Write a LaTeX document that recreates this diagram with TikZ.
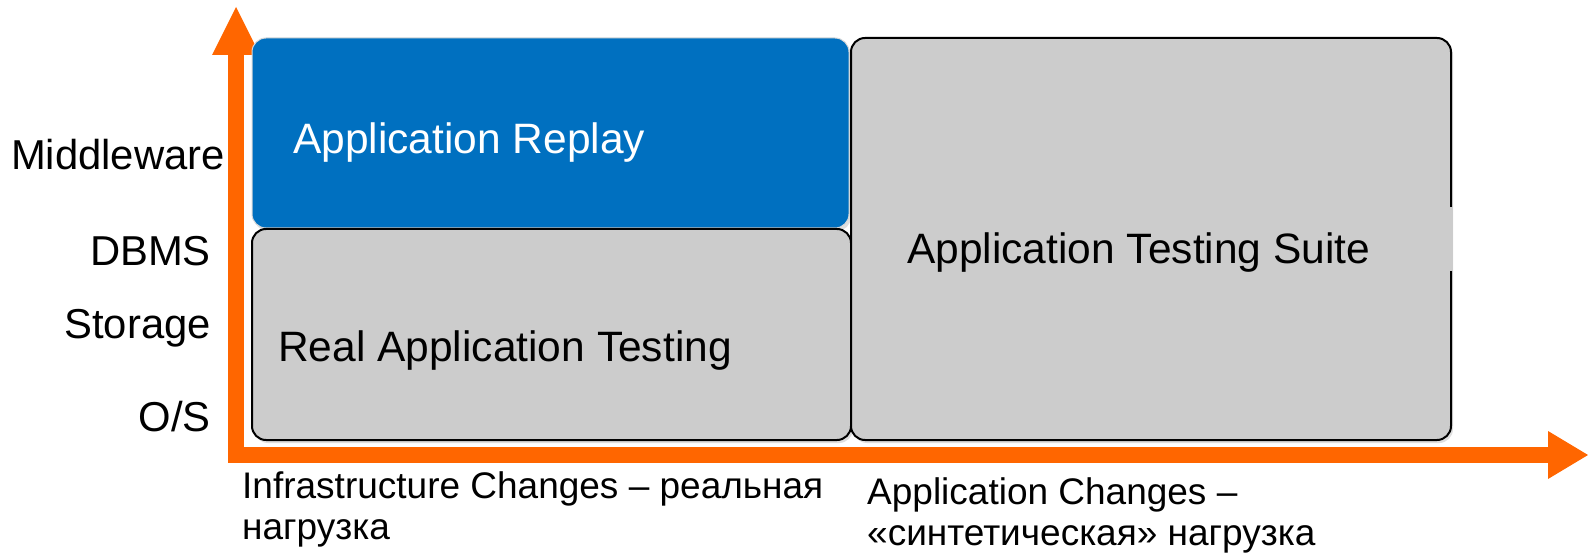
\documentclass[tikz,border=0pt]{standalone}
\usepackage{fontspec}
\setmainfont{Liberation Sans}
\usetikzlibrary{shadows}
\definecolor{orng}{RGB}{255,102,0}
\definecolor{bluebox}{RGB}{0,112,192}
\definecolor{greybox}{RGB}{204,204,204}
\begin{document}
\begin{tikzpicture}[x=1pt,y=-1pt,
  boxbase/.style={anchor=north west, inner sep=0pt, outer sep=0pt, rounded corners=14pt,
     drop shadow={opacity=0.25, shadow xshift=2pt, shadow yshift=-3pt}},
  greyboxst/.style={boxbase, fill=greybox, draw=black, line width=2pt},
  blueboxst/.style={boxbase, fill=bluebox, draw=black!15, line width=1pt},
  axislabel/.style={font=\fontsize{41.8}{48}\selectfont, inner sep=0pt, anchor=base east},
  boxlabel/.style={font=\fontsize{42.5}{48}\selectfont, inner sep=0pt, anchor=base west},
  bottomlabel/.style={font=\fontsize{37}{42}\selectfont, inner sep=0pt, anchor=base west},
  arrowfill/.style={fill=orng, draw=none}]
\useasboundingbox (0,0) rectangle (1588,553);
% axes
\fill[arrowfill] (228,55) rectangle (244,463);
\fill[arrowfill] (212,55) -- (236,7) -- (260,55) -- cycle;
\fill[arrowfill] (228,447) rectangle (1548,463);
\fill[arrowfill] (1548,431) -- (1588,455) -- (1548,479) -- cycle;
% boxes
\node[blueboxst, minimum width=597pt, minimum height=190pt] (replay) at (252,38) {};
\node[greyboxst, minimum width=599pt, minimum height=211pt] (rat) at (252,229) {};
\node[greyboxst, minimum width=600pt, minimum height=402pt] (ats) at (851,38) {};
\node[anchor=north west, inner sep=0pt, fill=greybox, minimum width=600pt, minimum height=64pt] (atsband) at (853,207) {};
% box labels
\node[boxlabel, text=white] (replaylbl) at (293,154) {Application Replay};
\node[boxlabel] (ratlbl) at (278,361) {Real Application Testing};
\node[boxlabel] (atslbl) at (907,264) {Application Testing Suite};
% axis labels
\node[axislabel] (mw) at (225,170) {Middleware};
\node[axislabel] (dbms) at (211,266) {DBMS};
\node[axislabel] (stor) at (211,339) {Storage};
\node[axislabel] (os) at (211,431) {O/S};
% bottom labels
\node[bottomlabel] (infra1) at (242,498) {Infrastructure Changes – реальная};
\node[bottomlabel] (infra2) at (242,539) {нагрузка};
\node[bottomlabel] (app1) at (867,504) {Application Changes –};
\node[bottomlabel] (app2) at (867,545) {«синтетическая» нагрузка};
\end{tikzpicture}
\end{document}
